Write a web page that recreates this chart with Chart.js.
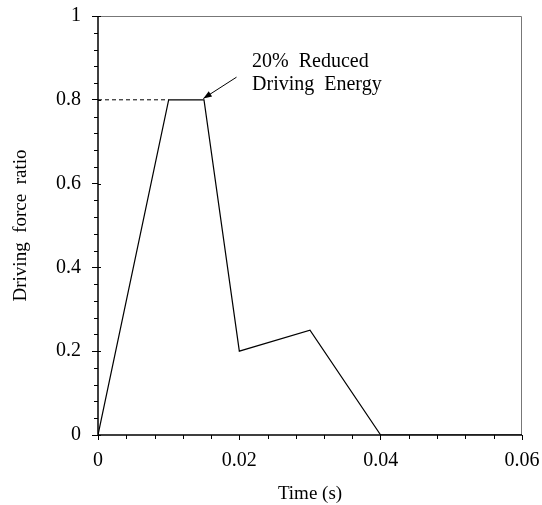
<!DOCTYPE html>
<html lang="en">
<head>
  <meta charset="UTF-8" />
  <title>Driving force ratio</title>
  <script src="https://cdn.jsdelivr.net/npm/chart.js"></script>
  <style>
    body { margin: 0; background: #fff; }
    #wrap { width: 542px; height: 505px; }
  </style>
</head>
<body>
  <div id="wrap"><canvas id="chart" width="542" height="505"></canvas></div>

  <script>
    // data
    const timeValues = [0, 0.01, 0.015, 0.02, 0.03, 0.04, 0.06];
    const forceRatio = [0, 0.8, 0.8, 0.2, 0.25, 0, 0];
    const dashTime = [0, 0.01];
    const dashRatio = [0.8, 0.8];
    const xTicks = [0, 0.02, 0.04, 0.06];
    const yTicks = [0, 0.2, 0.4, 0.6, 0.8, 1];
    const noteLines = ['20%  Reduced', 'Driving  Energy'];
    const notePos = [0.0218, 0.89];     // text anchor (data units)
    const arrowFrom = [0.0196, 0.854];
    const arrowTo = [0.0149, 0.803];

    const serif = "'Liberation Serif', 'DejaVu Serif', serif";

    const pts = (xs, ys) => xs.map((x, i) => ({ x: x, y: ys[i] }));

    const extras = {
      id: 'extras',
      beforeDatasetsDraw(chart) {
        const { ctx, chartArea: a } = chart;
        ctx.save();
        ctx.strokeStyle = '#777';
        ctx.lineWidth = 1;
        ctx.beginPath();
        ctx.moveTo(a.left, a.top + 0.5);
        ctx.lineTo(a.right - 0.5, a.top + 0.5);
        ctx.lineTo(a.right - 0.5, a.bottom);
        ctx.stroke();
        ctx.restore();
      },
      afterDatasetsDraw(chart) {
        const { ctx, chartArea: a, scales: { x, y } } = chart;
        ctx.save();
        ctx.strokeStyle = '#000';
        ctx.lineWidth = 1;
        // minor ticks
        ctx.beginPath();
        for (let i = 1; i < 25; i++) {
          if (i % 5 === 0) continue;
          const py = Math.round(y.getPixelForValue(i * 0.04)) + 0.5;
          ctx.moveTo(a.left - 4, py); ctx.lineTo(a.left, py);
        }
        for (let i = 1; i < 15; i++) {
          if (i % 5 === 0) continue;
          const px = Math.round(x.getPixelForValue(i * 0.004)) + 0.5;
          ctx.moveTo(px, a.bottom); ctx.lineTo(px, a.bottom + 4);
        }
        // inner half of the major y ticks
        yTicks.forEach(v => {
          const py = Math.round(y.getPixelForValue(v)) + 0.5;
          ctx.moveTo(a.left, py); ctx.lineTo(a.left + 3, py);
        });
        ctx.stroke();

        // axis lines
        ctx.lineWidth = 1.5;
        ctx.beginPath();
        ctx.moveTo(a.left, a.top);
        ctx.lineTo(a.left, a.bottom);
        ctx.lineTo(a.right, a.bottom);
        ctx.stroke();

        // arrow
        const x0 = x.getPixelForValue(arrowFrom[0]), y0 = y.getPixelForValue(arrowFrom[1]);
        const x1 = x.getPixelForValue(arrowTo[0]), y1 = y.getPixelForValue(arrowTo[1]);
        const ang = Math.atan2(y1 - y0, x1 - x0);
        ctx.lineWidth = 1;
        ctx.beginPath();
        ctx.moveTo(x0, y0); ctx.lineTo(x1, y1);
        ctx.stroke();
        ctx.beginPath();
        ctx.moveTo(x1, y1);
        ctx.lineTo(x1 - 9 * Math.cos(ang - 0.35), y1 - 9 * Math.sin(ang - 0.35));
        ctx.lineTo(x1 - 9 * Math.cos(ang + 0.35), y1 - 9 * Math.sin(ang + 0.35));
        ctx.closePath();
        ctx.fillStyle = '#000';
        ctx.fill();

        // note text
        ctx.font = '20px ' + serif;
        ctx.textBaseline = 'middle';
        ctx.textAlign = 'left';
        const tx = x.getPixelForValue(notePos[0]);
        const ty = y.getPixelForValue(notePos[1]);
        noteLines.forEach((s, i) => ctx.fillText(s, tx, ty + i * 23));
        ctx.restore();
      }
    };

    new Chart(document.getElementById('chart'), {
      type: 'scatter',
      data: {
        datasets: [
          {
            data: pts(timeValues, forceRatio),
            showLine: true,
            borderColor: '#000',
            borderWidth: 1.2,
            pointRadius: 0,
            tension: 0
          },
          {
            data: pts(dashTime, dashRatio),
            showLine: true,
            borderColor: '#000',
            borderWidth: 1,
            borderDash: [4, 3],
            pointRadius: 0
          }
        ]
      },
      options: {
        responsive: false,
        animation: false,
        layout: { padding: { top: 16, right: 20, left: 0, bottom: 0 } },
        plugins: { legend: { display: false }, tooltip: { enabled: false } },
        scales: {
          x: {
            type: 'linear',
            min: 0, max: 0.06,
            afterBuildTicks: s => { s.ticks = xTicks.map(v => ({ value: v })); },
            afterFit: s => { s.height = 70; s.paddingLeft = 0; s.paddingRight = 0; },
            border: { display: false },
            grid: { drawOnChartArea: false, color: '#000', tickLength: 5, tickWidth: 1 },
            ticks: {
              color: '#000', padding: 9, maxRotation: 0,
              font: { family: serif, size: 20 },
              callback: v => String(v)
            },
            title: {
              display: true, text: 'Time (s)', color: '#000',
              font: { family: serif, size: 19 }, padding: { top: 6, bottom: 0 }
            }
          },
          y: {
            type: 'linear',
            min: 0, max: 1,
            afterBuildTicks: s => { s.ticks = yTicks.map(v => ({ value: v })); },
            afterFit: s => { s.width = 98; s.paddingTop = 0; s.paddingBottom = 0; },
            border: { display: false },
            grid: { drawOnChartArea: false, color: '#000', tickLength: 6, tickWidth: 1 },
            ticks: {
              color: '#000', padding: 11,
              font: { family: serif, size: 20 },
              callback: v => String(v)
            },
            title: {
              display: true, text: 'Driving  force  ratio', color: '#000',
              font: { family: serif, size: 19 }, padding: { top: 10, bottom: 4 }
            }
          }
        }
      },
      plugins: [extras]
    });
  </script>
</body>
</html>
